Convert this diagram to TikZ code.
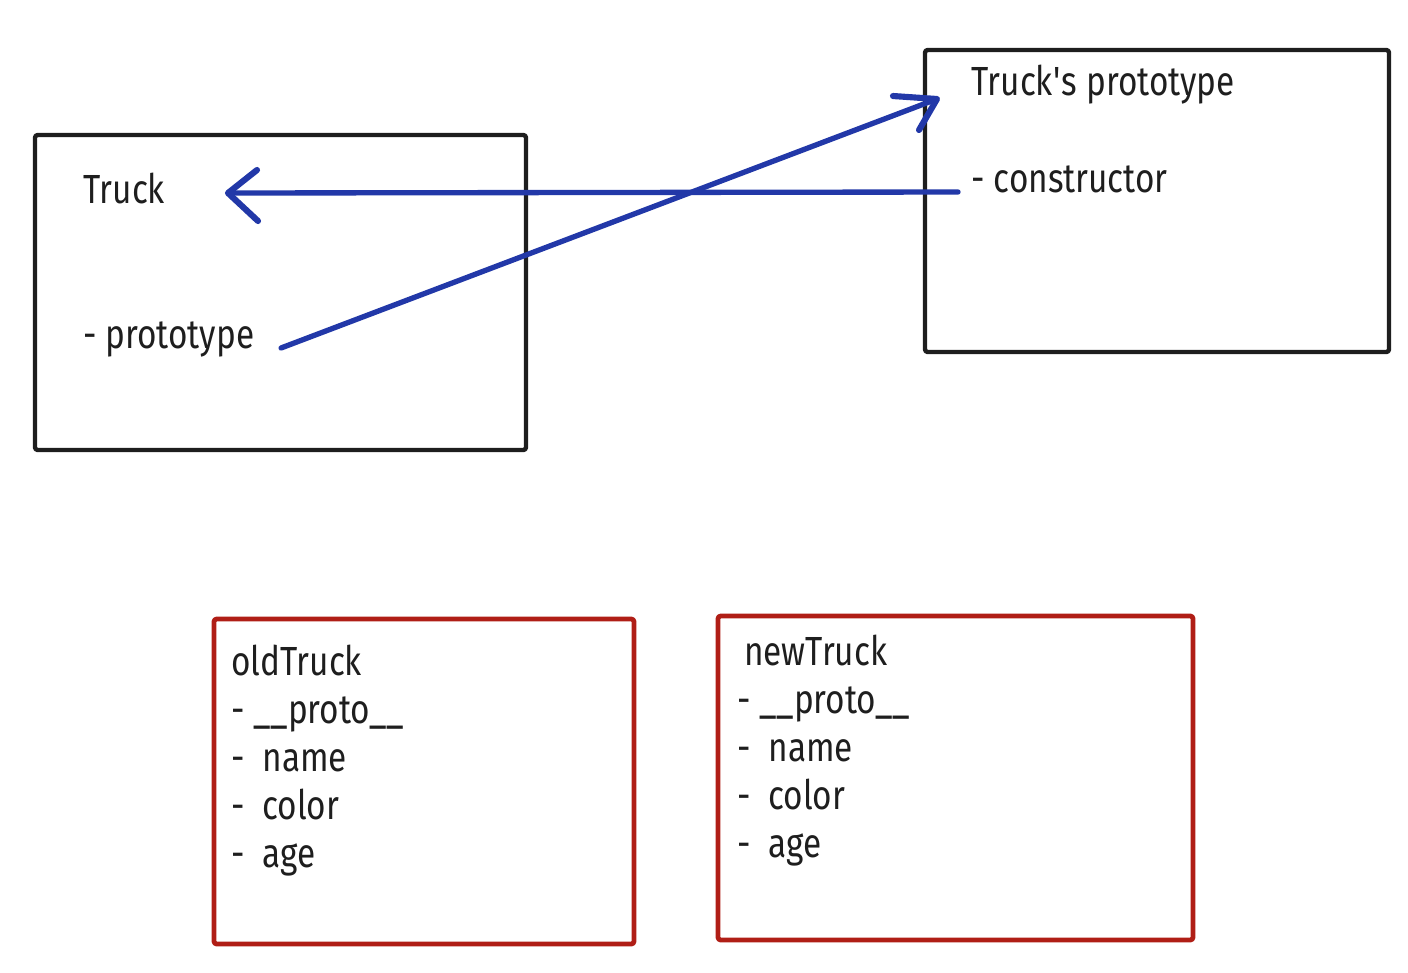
\documentclass[tikz,border=0pt]{standalone}
\usepackage{fontspec}
\setmainfont{Fira Sans}[FakeStretch=0.82]
\usetikzlibrary{calc}

\tikzset{every picture/.style={line width=0.75pt}}
\tikzset{
  blackbox/.style={draw={rgb, 255:red, 30; green, 30; blue, 30}, line width=3.3pt, line join=round, rounded corners=2pt},
  redbox/.style={draw={rgb, 255:red, 176; green, 30; blue, 22}, line width=3.6pt, line join=round, rounded corners=2pt},
  bluepen/.style={draw={rgb, 255:red, 34; green, 56; blue, 168}, line width=4pt, line cap=round, line join=round},
  bluehead/.style={bluepen, line width=4.6pt},
  txt/.style={anchor=base west, inner sep=0pt, text={rgb, 255:red, 30; green, 30; blue, 30}, font=\fontsize{30.5pt}{36pt}\selectfont, align=left}
}

\begin{document}
\begin{tikzpicture}[x=0.75pt,y=0.75pt,yscale=-1,xscale=1]
%set diagram left start at 0, and has height of 972
\useasboundingbox (0,0) rectangle (1408,972);

%Shape: Rectangle [id:truck box]
\draw [blackbox] (35,135) -- (526,135) -- (526,450) -- (35,450) -- cycle ;
%Shape: Rectangle [id:prototype box]
\draw [blackbox] (925,50) -- (1389,50) -- (1389,352) -- (925,352) -- cycle ;
%Shape: Rectangle [id:old instance]
\draw [redbox] (214,619) -- (634,619) -- (634,944) -- (214,944) -- cycle ;
%Shape: Rectangle [id:new instance]
\draw [redbox] (718,616) -- (1193,616) -- (1193,940) -- (718,940) -- cycle ;

% Text Node
\draw (83,203) node [txt] (truck) {Truck};
% Text Node
\draw (83,348) node [txt] (proto) {- prototype};
% Text Node
\draw (971,95) node [txt] (tproto) {Truck\textquotesingle s prototype};
% Text Node
\draw (971,192) node [txt] (ctor) {- constructor};
% Text Node (base is the last line)
\draw (231,867) node [txt] (old) {oldTruck\\- \_\_proto\_\_\\-~~name\\-~~color\\-~~age};
% Text Node (base is the last line)
\draw (737,857) node [txt] (new) {\hspace*{5pt}newTruck\\- \_\_proto\_\_\\-~~name\\-~~color\\-~~age};

%Straight Lines [id:constructor to Truck]
\coordinate (ctorTail) at ($(ctor.base west)+(-13,0)$);
\coordinate (truckTip) at ($(truck.base west)+(145,-10)$);
\draw [bluepen] (ctorTail) -- (truckTip) ;
\draw [bluehead] ($(truckTip)+(29,-23)$) -- (truckTip) -- ($(truckTip)+(30,28)$) ;
%Straight Lines [id:prototype to Truck's prototype]
\coordinate (protoTail) at ($(proto.base west)+(198,0)$);
\coordinate (tprotoTip) at ($(tproto.base west)+(-34,4)$);
\draw [bluepen] (protoTail) -- (tprotoTip) ;
\draw [bluehead] ($(tprotoTip)+(-44,-3)$) -- (tprotoTip) -- ($(tprotoTip)+(-18,31)$) ;
\end{tikzpicture}
\end{document}
